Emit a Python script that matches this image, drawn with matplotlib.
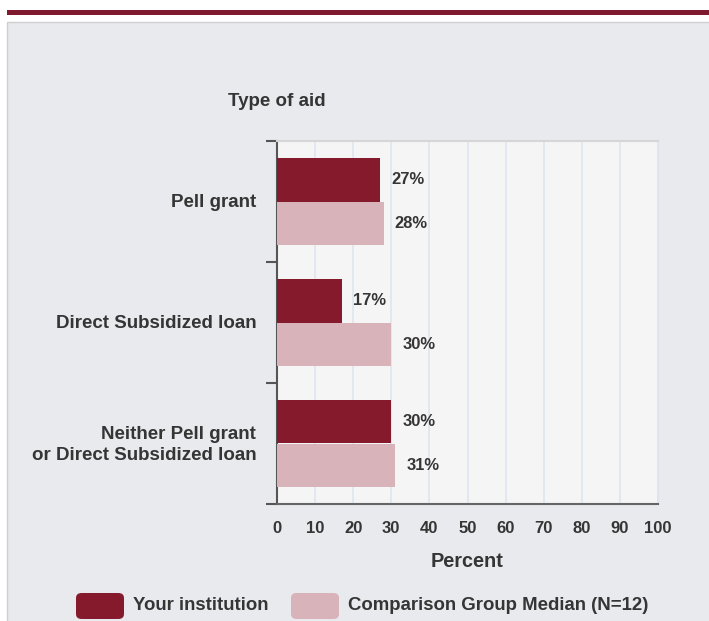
import matplotlib
matplotlib.use('Agg')
from matplotlib import pyplot as plt
from matplotlib.patches import Rectangle, FancyBboxPatch
import numpy as np

plt.rcParams['font.family'] = ['Liberation Sans', 'DejaVu Sans']
plt.rcParams['font.weight'] = 'bold'

# data
categories = ['Pell grant', 'Direct Subsidized loan',
              'Neither Pell grant\nor Direct Subsidized loan']
your_inst = [27, 17, 30]
comparison = [28, 30, 31]
series_names = ['Your institution', 'Comparison Group Median (N=12)']
xticks = list(range(0, 101, 10))

dark = '#851a2c'
light = '#d8b3b9'
txt = '#353535'

W, H = 709, 621
fig = plt.figure(figsize=(W / 100, H / 100), dpi=100)
fig.patch.set_facecolor('white')

# page decoration: maroon rule + grey panel (behind the axes)
fig.add_artist(Rectangle((7 / W, 1 - 15 / H), 1, 5 / H, transform=fig.transFigure,
                         facecolor='#801a2e', edgecolor='none', zorder=-10))
fig.add_artist(Rectangle((7.5 / W, -0.01), 1, 1 - 22 / H + 0.01, transform=fig.transFigure,
                         facecolor='#e9eaee', edgecolor='#cfcfd2', linewidth=1, zorder=-10))

ax = fig.add_axes([277 / W, 1 - 504 / H, (658 - 277) / W, (504 - 141) / H])
ax.set_facecolor('#f5f5f5')

y = np.arange(len(categories)) + 0.5
h = 0.36
ax.barh(y - h / 2, your_inst, height=h, color=dark, zorder=3)
ax.barh(y + h / 2, comparison, height=h, color=light, zorder=3)

for yi, v in zip(y - h / 2, your_inst):
    ax.annotate(f'{v}%', (v, yi), xytext=(8, 0), textcoords='offset points',
                va='center', ha='left', fontsize=11.9, color=txt, fontweight='bold')
for yi, v in zip(y + h / 2, comparison):
    ax.annotate(f'{v}%', (v, yi), xytext=(8, 0), textcoords='offset points',
                va='center', ha='left', fontsize=11.9, color=txt, fontweight='bold')

ax.set_xlim(0, 100)
ax.set_ylim(3, 0)
ax.set_xticks(xticks)
ax.set_xticklabels([str(t) for t in xticks], fontsize=12, color=txt, fontweight='bold')
ax.tick_params(axis='x', length=0, pad=12)
ax.xaxis.grid(True, color='#dfe5f0', linewidth=1.2, zorder=0)
ax.set_axisbelow(True)

# category labels drawn as text so the two-line label gets its own spacing
ax.set_yticks(y)
ax.set_yticklabels([])
ax.tick_params(axis='y', which='major', length=0)
for yi, name in zip(y, categories):
    ax.annotate(name, (0, yi), xycoords=('axes fraction', 'data'), xytext=(-15, -1),
                textcoords='offset points', ha='right', va='center', multialignment='right',
                fontsize=13.5, color=txt, fontweight='bold', linespacing=1.3,
                annotation_clip=False)
ax.set_yticks([0, 1, 2, 3], minor=True)
ax.tick_params(axis='y', which='minor', length=8, width=1.5, color='#555555')

ax.spines['top'].set_color('#d6d6d6')
ax.spines['top'].set_linewidth(1.5)
ax.spines['right'].set_color('#dfe5f0')
ax.spines['right'].set_linewidth(1.5)
ax.spines['left'].set_color('#555555')
ax.spines['left'].set_linewidth(1.5)
ax.spines['bottom'].set_color('#666666')
ax.spines['bottom'].set_linewidth(1.5)

ax.set_xlabel('Percent', fontsize=14.3, color=txt, fontweight='bold', labelpad=12)

fig.text(277 / W, 1 - 101 / H, 'Type of aid', ha='center', va='center',
         fontsize=13.5, color=txt, fontweight='bold')

# legend
leg = [(76, dark, series_names[0]), (291, light, series_names[1])]
for x0, c, name in leg:
    fig.add_artist(FancyBboxPatch((x0 / W, 1 - 619 / H), 48 / W, 26 / H,
                                  boxstyle='round,pad=0,rounding_size=0.008',
                                  transform=fig.transFigure, facecolor=c, edgecolor='none'))
    fig.text((x0 + 57) / W, 1 - 606 / H, name, ha='left', va='center',
             fontsize=13.4, color=txt, fontweight='bold')

plt.savefig('out.png', dpi=100)
